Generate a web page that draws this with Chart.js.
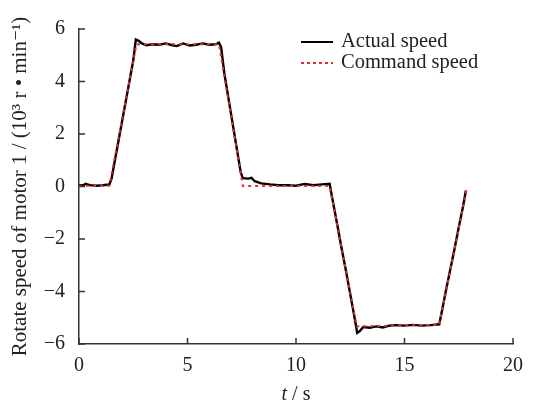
<!DOCTYPE html>
<html>
<head>
<meta charset="utf-8">
<script src="https://cdn.jsdelivr.net/npm/chart.js@4/dist/chart.umd.min.js"></script>
<style>
  html, body { margin: 0; padding: 0; background: #fff; }
  #wrap { width: 534px; height: 403px; position: relative; }
</style>
</head>
<body>
<div id="wrap"><canvas id="chart"></canvas></div>
<script>
// time (s) and speed (10^3 r/min)
const actualTime = [0, 0.2, 0.3, 0.5, 0.8, 1.1, 1.4, 1.5, 1.7, 1.9, 2.1, 2.3, 2.5, 2.62, 2.75, 2.9, 3.1, 3.4, 3.7, 4.0,
  4.3, 4.5, 4.8, 5.1, 5.4, 5.7, 6.0, 6.3, 6.45, 6.55, 6.7, 6.9, 7.1, 7.3, 7.45, 7.55, 7.8, 7.95, 8.1, 8.4,
  8.8, 9.2, 9.6, 10.0, 10.4, 10.8, 11.2, 11.55, 11.65, 11.9, 12.1, 12.3, 12.5, 12.7, 12.82, 12.95, 13.1, 13.4, 13.7, 14.0,
  14.3, 14.6, 15.0, 15.4, 15.8, 16.2, 16.6, 16.75, 16.9, 17.1, 17.3, 17.5, 17.7, 17.83];
const actualSpeed = [0.05, 0.05, 0.1, 0.05, 0.03, 0.05, 0.08, 0.3, 1.2, 2.1, 3.0, 3.9, 4.8, 5.6, 5.55, 5.45, 5.38, 5.42, 5.4, 5.45,
  5.38, 5.35, 5.45, 5.37, 5.4, 5.45, 5.4, 5.42, 5.48, 5.3, 4.3, 3.3, 2.3, 1.3, 0.55, 0.32, 0.3, 0.33, 0.2, 0.12,
  0.08, 0.05, 0.05, 0.03, 0.1, 0.05, 0.08, 0.1, -0.35, -1.45, -2.35, -3.2, -4.1, -5.0, -5.58, -5.5, -5.35, -5.38, -5.33, -5.37,
  -5.3, -5.28, -5.3, -5.27, -5.3, -5.28, -5.25, -4.65, -4.0, -3.2, -2.4, -1.55, -0.75, -0.15];

const commandTime = [0, 1.4, 2.65, 4.5, 6.45, 7.55, 9.5, 11.55, 12.8, 14.7, 16.6, 17.85];
const commandSpeed = [0.03, 0.03, 5.42, 5.42, 5.42, 0.02, 0.02, 0.02, -5.33, -5.3, -5.27, -0.15];

const xTicks = [0, 5, 10, 15, 20];
const yTicks = [-6, -4, -2, 0, 2, 4, 6];

const seriesNames = ['Actual speed', 'Command speed'];
const seriesColors = ['#000000', '#ee2a30'];

const serif = '"Liberation Serif", "DejaVu Serif", serif';

const toPoints = (xs, ys) => xs.map((x, i) => ({ x: x, y: ys[i] }));

// inward ticks, x title with italic t, and the legend inside the plot
const decorations = {
  id: 'decorations',
  afterDraw(chart) {
    const ctx = chart.ctx;
    const area = chart.chartArea;
    const xs = chart.scales.x;
    const ys = chart.scales.y;
    ctx.save();
    ctx.strokeStyle = '#333';
    ctx.lineWidth = 1.5;
    ctx.beginPath();
    xTicks.forEach(v => {
      const px = xs.getPixelForValue(v);
      ctx.moveTo(px, area.bottom);
      ctx.lineTo(px, area.bottom - 6);
    });
    yTicks.forEach(v => {
      const py = ys.getPixelForValue(v);
      ctx.moveTo(area.left, py);
      ctx.lineTo(area.left + 6, py);
    });
    ctx.stroke();

    // x title
    ctx.fillStyle = '#222';
    ctx.textBaseline = 'alphabetic';
    ctx.font = 'italic 20px ' + serif;
    const tW = ctx.measureText('t').width;
    ctx.font = '20px ' + serif;
    const rest = ' / s';
    const rW = ctx.measureText(rest).width;
    const cx = (area.left + area.right) / 2;
    let sx = cx - (tW + rW) / 2;
    ctx.font = 'italic 20px ' + serif;
    ctx.fillText('t', sx, 400);
    ctx.font = '20px ' + serif;
    ctx.fillText(rest, sx + tW, 400);

    // legend
    ctx.font = '20.5px ' + serif;
    ctx.textBaseline = 'middle';
    seriesNames.forEach((name, i) => {
      const ly = 42 + i * 21;
      ctx.strokeStyle = seriesColors[i];
      ctx.lineWidth = 2;
      ctx.setLineDash(i === 0 ? [] : [3, 3]);
      ctx.beginPath();
      ctx.moveTo(301, ly);
      ctx.lineTo(333, ly);
      ctx.stroke();
      ctx.setLineDash([]);
      ctx.fillStyle = '#222';
      ctx.fillText(name, 341, ly);
    });
    ctx.restore();
  }
};

new Chart(document.getElementById('chart'), {
  type: 'line',
  data: {
    datasets: [
      {
        label: seriesNames[0],
        data: toPoints(actualTime, actualSpeed),
        borderColor: seriesColors[0],
        borderWidth: 2.4,
        pointRadius: 0,
        tension: 0,
        order: 2
      },
      {
        label: seriesNames[1],
        data: toPoints(commandTime, commandSpeed),
        borderColor: seriesColors[1],
        borderWidth: 2,
        borderDash: [3, 4],
        pointRadius: 0,
        tension: 0,
        order: 1
      }
    ]
  },
  options: {
    responsive: true,
    maintainAspectRatio: false,
    animation: false,
    layout: { padding: { top: 29, right: 21, left: 0, bottom: 0 } },
    plugins: {
      legend: { display: false },
      tooltip: { enabled: false }
    },
    scales: {
      x: {
        type: 'linear',
        min: 0,
        max: 20,
        afterBuildTicks: s => { s.ticks = xTicks.map(v => ({ value: v })); },
        afterFit: s => { s.height = 59; },
        grid: { display: false },
        border: { display: true, color: '#333', width: 1.5 },
        ticks: {
          color: '#222',
          font: { family: serif, size: 20 },
          padding: 2,
          maxRotation: 0
        }
      },
      y: {
        min: -6,
        max: 6,
        afterBuildTicks: s => { s.ticks = yTicks.map(v => ({ value: v })); },
        afterFit: s => { s.width = 79; },
        grid: { display: false },
        border: { display: true, color: '#333', width: 1.5 },
        ticks: {
          color: '#222',
          font: { family: serif, size: 20 },
          padding: 6,
          callback: v => String(v).replace('-', '\u2212')
        },
        title: {
          display: true,
          text: 'Rotate speed of motor 1 / (10\u00b3 r \u2022 min\u207b\u00b9)',
          color: '#222',
          font: { family: serif, size: 21 },
          padding: { top: 8, bottom: 0 }
        }
      }
    }
  },
  plugins: [decorations]
});
</script>
</body>
</html>
